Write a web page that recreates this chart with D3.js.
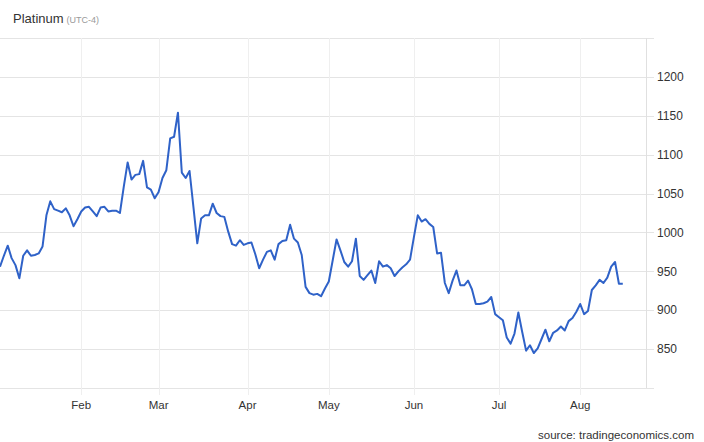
<!DOCTYPE html>
<html>
<head>
<meta charset="utf-8">
<script src="https://cdnjs.cloudflare.com/ajax/libs/d3/7.8.5/d3.min.js"></script>
<style>
  body { margin: 0; background: #fff; font-family: "Liberation Sans", Arial, sans-serif; }
</style>
</head>
<body>
<div id="chart"></div>
<script>
// daily platinum price (USD/t.oz), one value per weekday, 2022
const jan = [956, 970, 983, 967, 958, 941, 970, 977, 970, 971, 973, 982, 1022, 1040, 1030, 1028, 1026, 1031, 1022, 1008, 1017]
const feb = [1027, 1032, 1033, 1027, 1021, 1032, 1033, 1027, 1028, 1028, 1025, 1059, 1090, 1068, 1074, 1075, 1092, 1058, 1055, 1044]
const mar = [1052, 1070, 1080, 1121, 1123, 1154, 1077, 1070, 1079, 1033, 986, 1018, 1022, 1022, 1037, 1025, 1021, 1020, 1001, 985, 983, 990, 984]
const apr = [986, 987, 972, 954, 965, 975, 977, 965, 985, 989, 990, 1010, 992, 987, 971, 930, 922, 920, 921, 918, 928]
const may = [937, 964, 991, 977, 962, 956, 963, 992, 944, 939, 945, 951, 935, 963, 956, 958, 954, 944, 950, 955, 959, 965]
const jun = [994, 1022, 1014, 1017, 1011, 1007, 973, 974, 935, 922, 938, 951, 932, 932, 938, 927, 908, 908, 909, 911, 917, 895]
const jul = [891, 887, 865, 857, 870, 897, 872, 848, 855, 845, 851, 863, 875, 860, 871, 874, 879, 874, 886, 890, 898]
const aug = [908, 895, 899, 926, 932, 939, 935, 942, 956, 962, 934, 934]

const monthNames = ["Jan", "Feb", "Mar", "Apr", "May", "Jun", "Jul", "Aug"]
const yTicks = [800, 850, 900, 950, 1000, 1050, 1100, 1150, 1200, 1250]
const yLabelTicks = [850, 900, 950, 1000, 1050, 1100, 1150, 1200]

const width = 704, height = 442
const plot = { left: 0, right: 646, top: 38, bottom: 388 }

const months = [jan, feb, mar, apr, may, jun, jul, aug]
let series = [], monthStarts = []
months.forEach((m, k) => {
    monthStarts.push({ name: monthNames[k], i: series.length })
    m.forEach(v => series.push({ i: series.length, v: v }))
})

const svg = d3.select("#chart").append("svg")
    .attr("width", width)
    .attr("height", height)

const x = d3.scaleLinear()
    .domain([0, 167])
    .range([plot.left, plot.right])

const y = d3.scaleLinear()
    .domain([800, 1250])
    .range([plot.bottom, plot.top])

// title
const title = svg.append("text")
    .attr("x", 13)
    .attr("y", 23)
    .style("font-size", "13px")
    .style("fill", "#333")
    .text("Platinum")
title.append("tspan")
    .attr("dx", 3)
    .style("font-size", "9px")
    .style("fill", "#999")
    .text("(UTC-4)")

// horizontal grid
svg.selectAll(".hgrid")
    .data(yTicks)
    .join("line")
    .attr("class", "hgrid")
    .attr("x1", plot.left)
    .attr("x2", plot.right + 8)
    .attr("y1", d => Math.round(y(d)) + 0.5)
    .attr("y2", d => Math.round(y(d)) + 0.5)
    .attr("stroke", "#e4e4e4")

// vertical grid at month starts (Jan is off the left edge)
const shown = monthStarts.filter(d => d.i > 0)
svg.selectAll(".vgrid")
    .data(shown)
    .join("line")
    .attr("class", "vgrid")
    .attr("x1", d => Math.round(x(d.i)) + 0.5)
    .attr("x2", d => Math.round(x(d.i)) + 0.5)
    .attr("y1", plot.top)
    .attr("y2", plot.bottom + 7)
    .attr("stroke", "#efefef")

// right axis line
svg.append("line")
    .attr("x1", plot.right + 0.5)
    .attr("x2", plot.right + 0.5)
    .attr("y1", plot.top)
    .attr("y2", plot.bottom)
    .attr("stroke", "#e0e0e0")

svg.selectAll(".ylab")
    .data(yLabelTicks)
    .join("text")
    .attr("class", "ylab")
    .attr("x", 657)
    .attr("y", d => y(d))
    .attr("dy", "0.35em")
    .style("font-size", "12px")
    .style("fill", "#333")
    .text(d => d)

svg.selectAll(".xlab")
    .data(shown)
    .join("text")
    .attr("class", "xlab")
    .attr("x", d => x(d.i))
    .attr("y", 409)
    .attr("text-anchor", "middle")
    .style("font-size", "11.5px")
    .style("fill", "#333")
    .text(d => d.name)

// price line
const line = d3.line()
    .x(d => x(d.i))
    .y(d => y(d.v))

svg.append("path")
    .datum(series)
    .attr("d", line)
    .attr("fill", "none")
    .attr("stroke", "#2f62c8")
    .attr("stroke-width", 2)
    .attr("stroke-linejoin", "round")

svg.append("text")
    .attr("x", 694)
    .attr("y", 439)
    .attr("text-anchor", "end")
    .style("font-size", "11.5px")
    .style("fill", "#333")
    .text("source: tradingeconomics.com")
</script>
</body>
</html>
